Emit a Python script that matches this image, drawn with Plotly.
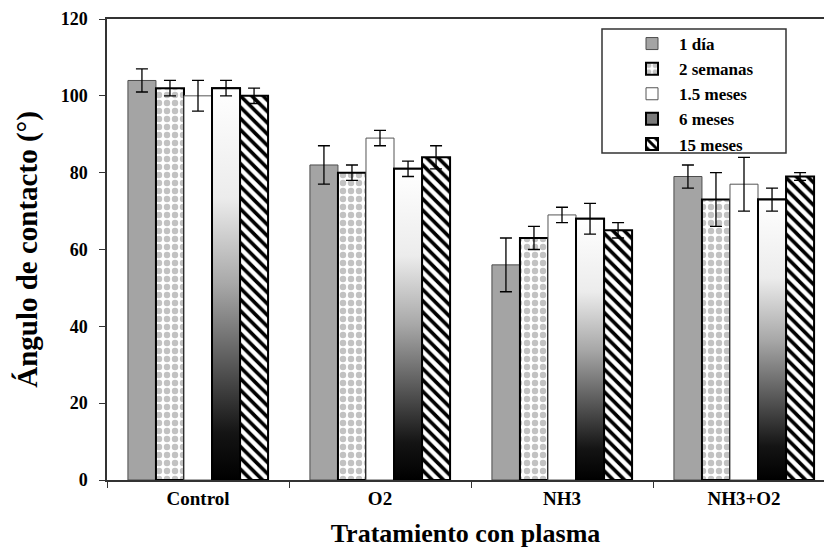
import plotly.graph_objects as go

# ---------------- data ----------------
categories = ["Control", "O2", "NH3", "NH3+O2"]
series_names = ["1 día", "2 semanas", "1.5 meses", "6 meses", "15 meses"]

vals_1_dia = [104, 82, 56, 79]
err_1_dia = [3, 5, 7, 3]
vals_2_semanas = [102, 80, 63, 73]
err_2_semanas = [2, 2, 3, 7]
vals_1_5_meses = [100, 89, 69, 77]
err_1_5_meses = [4, 2, 2, 7]
vals_6_meses = [102, 81, 68, 73]
err_6_meses = [2, 2, 4, 3]
vals_15_meses = [100, 84, 65, 79]
err_15_meses = [2, 3, 2, 1]

y_tick_vals = [0, 20, 40, 60, 80, 100, 120]

# ---------------- layout helpers ----------------
FONT = "Liberation Serif"
def b(s):
    return "<b>" + str(s) + "</b>"

x_pos = list(range(len(categories)))
group_width = 0.77
n_series = len(series_names)
bar_w = group_width / n_series
offsets = [-group_width / 2 + i * bar_w for i in range(n_series)]

err_style = dict(type="data", color="black", thickness=1.3, width=6)

fig = go.Figure()

fig.add_trace(go.Bar(
    x=x_pos, y=vals_1_dia, name=b(series_names[0]), width=bar_w, offset=offsets[0],
    marker=dict(color="#a4a4a4", line=dict(color="#4d4d4d", width=1)),
    error_y=dict(array=err_1_dia, **err_style),
))
fig.add_trace(go.Bar(
    x=x_pos, y=vals_2_semanas, name=b(series_names[1]), width=bar_w, offset=offsets[1],
    marker=dict(color="white",
                pattern=dict(shape=".", fgcolor="#c2c2c2", bgcolor="white",
                             size=8, solidity=0.5),
                line=dict(color="black", width=2)),
    error_y=dict(array=err_2_semanas, **err_style),
))
fig.add_trace(go.Bar(
    x=x_pos, y=vals_1_5_meses, name=b(series_names[2]), width=bar_w, offset=offsets[2],
    marker=dict(color="white", line=dict(color="#555555", width=1)),
    error_y=dict(array=err_1_5_meses, **err_style),
))
fig.add_trace(go.Bar(
    x=x_pos, y=vals_6_meses, name=b(series_names[3]), width=bar_w, offset=offsets[3],
    marker=dict(color="#7a7a7a", line=dict(color="black", width=2)),
))
fig.add_trace(go.Bar(
    x=x_pos, y=vals_15_meses, name=b(series_names[4]), width=bar_w, offset=offsets[4],
    marker=dict(color="white",
                pattern=dict(shape="\\", fgcolor="black", bgcolor="white",
                             size=8, solidity=0.45),
                line=dict(color="black", width=2)),
    error_y=dict(array=err_15_meses, **err_style),
))

grad = [[0.0, "#000000"], [0.12, "#141414"], [0.5, "#a8a8a8"],
        [0.72, "#ececec"], [1.0, "#ffffff"]]
for j, v in enumerate(vals_6_meses):
    x0 = x_pos[j] + offsets[3]
    x1 = x0 + bar_w
    fig.add_trace(go.Scatter(
        x=[x0, x0, x1, x1, x0], y=[0, v, v, 0, 0],
        mode="lines", fill="toself",
        fillgradient=dict(type="vertical", colorscale=grad, start=0, stop=v),
        line=dict(color="black", width=2),
        showlegend=False, hoverinfo="skip",
    ))
fig.add_trace(go.Scatter(
    x=[p + offsets[3] + bar_w / 2 for p in x_pos], y=vals_6_meses,
    mode="markers", marker=dict(size=2, opacity=0),
    error_y=dict(array=err_6_meses, **err_style),
    showlegend=False, hoverinfo="skip",
))

# ---------------- geometry ----------------
W, H = 824, 558
L, R, T, B = 107, 0, 19, 78
pw = W - L - R
ph = H - T - B

def px_x(px):
    return (px - L) / pw

def px_y(py):
    return (H - B - py) / ph

fig.add_shape(type="rect", xref="paper", yref="paper",
              x0=px_x(602), x1=px_x(786), y0=px_y(153), y1=px_y(29),
              line=dict(color="#333333", width=1.5), fillcolor="rgba(0,0,0,0)")

fig.update_layout(
    template="none",
    width=W, height=H,
    margin=dict(l=L, r=R, t=T, b=B, pad=0),
    paper_bgcolor="white", plot_bgcolor="white",
    barmode="group",
    showlegend=True,
    legend=dict(
        x=px_x(625), y=px_y(26), xanchor="left", yanchor="top",
        bgcolor="rgba(0,0,0,0)", borderwidth=0,
        font=dict(family=FONT, size=17, color="black"),
        tracegroupgap=0, itemwidth=44,
    ),
    xaxis=dict(
        type="linear", range=[-0.5, -0.5 + pw / 182.0],
        tickmode="array", tickvals=x_pos, ticktext=[b(c) for c in categories],
        ticks="", showgrid=False, zeroline=False,
        showline=True, linecolor="#333333", linewidth=1.5, mirror=True,
        tickfont=dict(family=FONT, size=19, color="black"),
        minor=dict(tickmode="array",
                   tickvals=[p - 0.5 for p in x_pos] + [x_pos[-1] + 0.5],
                   ticks="outside", ticklen=6, tickcolor="#333333", tickwidth=1,
                   showgrid=False),
        title=dict(text=b("Tratamiento con plasma"),
                   font=dict(family=FONT, size=26, color="black"),
                   standoff=16),
    ),
    yaxis=dict(
        range=[0, 120], tickmode="array", tickvals=y_tick_vals,
        ticktext=[b(v) for v in y_tick_vals],
        ticks="outside", ticklen=6, tickcolor="#333333", tickwidth=1,
        showgrid=False, zeroline=False,
        showline=True, linecolor="#333333", linewidth=1.5,
        ticklabelstandoff=8,
        tickfont=dict(family=FONT, size=18, color="black"),
        title=dict(text=b("Ángulo de contacto (°)"),
                   font=dict(family=FONT, size=29, color="black"),
                   standoff=15),
    ),
)

fig.write_html("out.html")
